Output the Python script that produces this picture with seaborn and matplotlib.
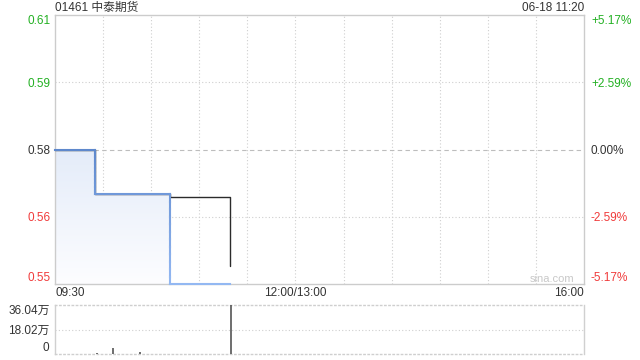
import numpy as np
import pandas as pd
import matplotlib
matplotlib.use("Agg")
import matplotlib.pyplot as plt
from matplotlib.patches import PathPatch
from matplotlib.collections import LineCollection
from matplotlib.colors import LinearSegmentedColormap, Normalize
import seaborn as sns

sns.set_theme(style="white")
plt.rcParams['font.family'] = ['Liberation Sans', 'Noto Sans CJK SC', 'DejaVu Sans']

# ---------------- data ----------------
title = "01461 中泰期货"
stamp = "06-18 11:20"
prev_close = 0.58

price_time = ["09:30", "09:55", "10:42", "11:19"]
price_value = [0.58, 0.57, 0.55, 0.55]

avg_time = ["09:30", "09:55", "10:42", "11:19"]
avg_value = [0.58, 0.57, 0.5695, 0.554]

vol_time = ["09:56", "10:06", "10:23", "11:20"]
vol_value = [6000, 44000, 18000, 360400]

y_ticks = [0.55, 0.565, 0.58, 0.595, 0.61]
y_labels = ["0.55", "0.56", "0.58", "0.59", "0.61"]
pct_labels = ["-5.17%", "-2.59%", "0.00%", "+2.59%", "+5.17%"]
vol_ticks = [0, 180200, 360400]
vol_labels = ["0", "18.02万", "36.04万"]
x_label_text = ["09:30", "12:00/13:00", "16:00"]
x_label_pos = ["09:30", "12:00", "16:00"]

GREEN = "#22b022"
RED = "#f03a3a"
DARK = "#333333"
GRID = "#cfcfcf"
FS = 8.5


def tmin(t):
    h, m = map(int, t.split(":"))
    mins = h * 60 + m
    if mins <= 12 * 60:
        return mins - (9 * 60 + 30)
    return 150 + mins - 13 * 60


price_df = pd.DataFrame({"t": [tmin(t) for t in price_time], "p": price_value})
avg_df = pd.DataFrame({"t": [tmin(t) for t in avg_time], "p": avg_value})
vol_df = pd.DataFrame({"t": [tmin(t) for t in vol_time], "v": vol_value})

fig = plt.figure(figsize=(6.4, 3.6), dpi=100)
W, H = 640, 360
L, R = 55, 584
ax = fig.add_axes([L / W, 1 - 284 / H, (R - L) / W, (284 - 15) / H])
axv = fig.add_axes([L / W, 1 - 354 / H, (R - L) / W, (354 - 305) / H])

# ---------------- price panel ----------------
ax.set_xlim(0, 330)
ax.set_ylim(0.55, 0.61)

# gradient fill under the price line
poly = ax.fill_between(price_df["t"], price_df["p"], 0.55, step="post",
                       facecolor="none", edgecolor="none")
grad = np.linspace(0, 1, 256).reshape(-1, 1)
cmap = LinearSegmentedColormap.from_list("g", ["#fdfdff", "#e4ecf9"])
im = ax.imshow(grad, aspect="auto", cmap=cmap, origin="lower",
               extent=[0, 330, 0.55, 0.58], zorder=1)
clip = PathPatch(poly.get_paths()[0], transform=ax.transData, facecolor="none", edgecolor="none")
ax.add_patch(clip)
im.set_clip_path(clip)

sns.lineplot(data=avg_df, x="t", y="p", ax=ax, color="#2b2b2b", lw=1.0,
             drawstyle="steps-post", estimator=None, sort=False, zorder=3)

# price line: step path coloured by level (darker at top, lighter at bottom)
xs, ys = [], []
for i in range(len(price_df)):
    if i > 0:
        xs.append(price_df["t"][i]); ys.append(price_df["p"][i - 1])
    xs.append(price_df["t"][i]); ys.append(price_df["p"][i])
pts = np.column_stack([xs, ys])
segs = []
cvals = []
for a, b in zip(pts[:-1], pts[1:]):
    if a[0] == b[0]:
        n = 12
        yy = np.linspace(a[1], b[1], n + 1)
        for k in range(n):
            segs.append([[a[0], yy[k]], [a[0], yy[k + 1]]])
            cvals.append((yy[k] + yy[k + 1]) / 2)
    else:
        segs.append([a, b])
        cvals.append(a[1])
lcmap = LinearSegmentedColormap.from_list("l", ["#93b8f2", "#5e88cc"])
lc = LineCollection(segs, cmap=lcmap, norm=Normalize(0.55, 0.58), linewidths=1.5,
                    zorder=6, clip_on=False, capstyle="projecting")
lc.set_array(np.array(cvals))
ax.add_collection(lc)

ax.set_xlabel("")
ax.set_ylabel("")
ax.set_xticks(np.arange(0, 331, 30))
ax.set_xticklabels([])
ax.set_yticks(y_ticks)
ax.grid(False)
for x in np.arange(30, 330, 30):
    ax.axvline(x, color=GRID, lw=0.8, ls=(0, (1, 2)), zorder=0)
for y in y_ticks[1:-1]:
    if y == prev_close:
        ax.axhline(y, color="#bdbdbd", lw=0.8, ls=(0, (4, 3)), zorder=0)
    else:
        ax.axhline(y, color=GRID, lw=0.8, ls=(0, (1, 2)), zorder=0)

ax.tick_params(axis="both", length=0)
ax.set_yticklabels(y_labels, fontsize=FS)
cols = [RED, RED, DARK, GREEN, GREEN]
for lab, c, i in zip(ax.get_yticklabels(), cols, range(5)):
    lab.set_color(c)
    if i == 0:
        lab.set_va("bottom")
    elif i == 4:
        lab.set_va("top")
ax.tick_params(axis="y", pad=3)
for s in ax.spines.values():
    s.set_color("#cccccc")
    s.set_linewidth(1)
    s.set_zorder(2)

axr = ax.twinx()
axr.set_ylim(ax.get_ylim())
axr.set_yticks(y_ticks)
axr.set_yticklabels(pct_labels, fontsize=FS)
axr.tick_params(axis="y", length=0, pad=5)
for lab, c, i in zip(axr.get_yticklabels(), cols, range(5)):
    lab.set_color(c)
    if i == 0:
        lab.set_va("bottom")
    elif i == 4:
        lab.set_va("top")
for s in axr.spines.values():
    s.set_visible(False)
axr.grid(False)
ax.set_zorder(axr.get_zorder() + 1)
ax.patch.set_visible(False)

# x labels
for txt, pos, ha in zip(x_label_text, x_label_pos, ["left", "center", "right"]):
    ax.text(tmin(pos), -0.033, txt, transform=ax.get_xaxis_transform(),
            ha=ha, va="center", fontsize=FS, color=DARK)

ax.text(0.94, 0.019, "sina.com", transform=ax.transAxes, ha="center", va="center",
        fontsize=8, color="#c8c8c8")

fig.text(L / W, 1 - 8 / H, title, ha="left", va="center", fontsize=FS, color=DARK)
fig.text(R / W, 1 - 8 / H, stamp, ha="right", va="center", fontsize=FS, color=DARK)

# ---------------- volume panel ----------------
axv.set_xlim(0, 330)
axv.set_ylim(0, 360400)
axv.vlines(vol_df["t"], 0, vol_df["v"], color="#555555", lw=1.2, zorder=3)
axv.set_xticks([])
axv.set_yticks(vol_ticks)
axv.set_yticklabels(vol_labels, fontsize=FS)
axv.tick_params(axis="y", length=0, pad=4)
for lab, i in zip(axv.get_yticklabels(), range(3)):
    lab.set_color(DARK)
    if i == 0:
        lab.set_va("bottom")
    elif i == 2:
        lab.set_va("top")
axv.grid(False)
axv.axhline(180200, color=GRID, lw=0.8, ls=(0, (1, 2)))
for side in ["top", "bottom"]:
    axv.spines[side].set_color(GRID)
    axv.spines[side].set_linestyle((0, (1, 2)))
    axv.spines[side].set_linewidth(1)
for side in ["left", "right"]:
    axv.spines[side].set_color("#d0d0d0")
    axv.spines[side].set_linewidth(1)

fig.savefig("out.png", dpi=100)
